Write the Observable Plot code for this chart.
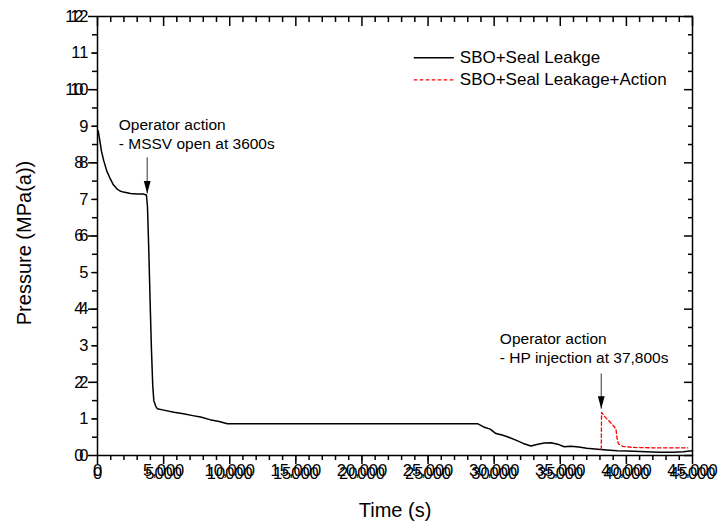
<!DOCTYPE html>
<html><head><meta charset="utf-8">
<script src="https://cdn.jsdelivr.net/npm/d3@7"></script>
<script src="https://cdn.jsdelivr.net/npm/@observablehq/plot@0.6"></script>
<style>body{margin:0;background:#fff;overflow:hidden} #chart{position:relative;width:721px;height:526px} #chart svg{display:block;position:absolute;left:0;top:0}</style>
</head><body><div id="chart"></div>
<script>
const seriesNames = ["SBO+Seal Leakge", "SBO+Seal Leakage+Action"];
const seriesColors = ["black", "red"];

const timeBase = [50, 200, 300, 470, 700, 970, 1200, 1470, 1700, 1960, 2500, 3000, 3450, 3700, 3780, 3880, 3980, 4080, 4180, 4260, 4400, 4520, 5000, 5780, 6500, 7200, 7800, 8500, 9200, 9820, 15000, 20000, 25000, 28740, 29200, 29700, 30130, 30600, 31100, 31640, 32200, 32780, 33300, 33800, 34300, 34800, 35300, 35800, 36400, 37000, 37830, 38500, 39300, 40100, 41500, 42500, 43570, 44300, 45000];
const pressureBase = [8.88, 8.55, 8.32, 8.06, 7.78, 7.56, 7.40, 7.29, 7.23, 7.20, 7.16, 7.15, 7.15, 7.12, 6.8, 5.6, 4.2, 2.9, 1.9, 1.5, 1.35, 1.28, 1.24, 1.18, 1.14, 1.09, 1.05, 0.98, 0.93, 0.87, 0.87, 0.87, 0.87, 0.87, 0.78, 0.72, 0.60, 0.56, 0.50, 0.42, 0.33, 0.26, 0.31, 0.34, 0.35, 0.31, 0.24, 0.25, 0.23, 0.20, 0.17, 0.15, 0.13, 0.12, 0.10, 0.09, 0.09, 0.10, 0.13];

const timeAction = [38100, 38120, 38400, 38800, 39210, 39300, 39400, 39720, 40500, 42000, 43500, 44640];
const pressureAction = [0.17, 1.18, 1.05, 0.90, 0.73, 0.45, 0.32, 0.25, 0.22, 0.21, 0.21, 0.21];

const xTicks = [0, 5000, 10000, 15000, 20000, 25000, 30000, 35000, 40000, 45000];
const xMinor = [1000, 2000, 3000, 4000, 6000, 7000, 8000, 9000, 11000, 12000, 13000, 14000, 16000, 17000, 18000, 19000, 21000, 22000, 23000, 24000, 26000, 27000, 28000, 29000, 31000, 32000, 33000, 34000, 36000, 37000, 38000, 39000, 41000, 42000, 43000, 44000];
const yTicks = [0, 2, 4, 6, 8, 10, 12];
const yMinor = [0.5, 1, 1.5, 2.5, 3, 3.5, 4.5, 5, 5.5, 6.5, 7, 7.5, 8.5, 9, 9.5, 10.5, 11, 11.5];

const xTitle = "Time (s)";
const yTitle = "Pressure (MPa(a))";

const annotationText = ["Operator action\n- MSSV open at 3600s", "Operator action\n- HP injection at 37,800s"];
const annotationX = [1610, 30430];
const annotationY = [9.25, 3.41];
const arrowX = [3760, 38100];
const arrowFrom = [8.15, 2.24];
const arrowTo = [7.16, 1.28];

const legendX1 = [23920, 23920];
const legendX2 = [26950, 26950];
const legendY = [10.87, 10.27];
const legendTextX = 27400;

const W = 721, H = 526;
const mL = 97, mR = 29, mT = 16, mB = 71;
const xMax = 45000, yMax = 12;
const major = 9, minor = 5;

const baseData = timeBase.map((t, i) => ({t, p: pressureBase[i]}));
const actionData = timeAction.map((t, i) => ({t, p: pressureAction[i]}));
const annotations = annotationText.map((text, i) => ({text, x: annotationX[i], y: annotationY[i]}));
const arrows = arrowX.map((x, i) => ({x, y1: arrowFrom[i], y2: arrowTo[i]}));
const legend = seriesNames.map((name, i) => ({name, color: seriesColors[i], x1: legendX1[i], x2: legendX2[i], y: legendY[i]}));

const downTriangle = {
  draw(ctx) {
    ctx.moveTo(-3.4, -12.5);
    ctx.lineTo(3.4, -12.5);
    ctx.lineTo(0, 0);
    ctx.closePath();
  }
};

const font = "'Liberation Sans', Arial, sans-serif";
const fmt = d => String(d);
const blank = () => "";
const ink = "black";
const common = {
  width: W, height: H,
  marginLeft: mL, marginRight: mR, marginTop: mT, marginBottom: mB,
  x: {domain: [0, xMax], label: null},
  y: {domain: [0, yMax], label: null}
};

// layer 1: axes, ticks and frame
const axesLayer = Plot.plot({
  ...common,
  style: {fontFamily: font, fontSize: "16.5px", background: "white", color: "black", overflow: "visible"},
  marks: [
    Plot.axisX(xMinor, {tickSize: minor, tickFormat: blank, stroke: ink, strokeWidth: 1.5, label: null}),
    Plot.axisX(xTicks, {tickSize: major, tickPadding: 3, tickFormat: fmt, stroke: ink, strokeWidth: 1.5, label: null, fontSize: 16.5}),
    Plot.axisY(yMinor, {tickSize: minor, tickFormat: blank, stroke: ink, strokeWidth: 1.5, label: null}),
    Plot.axisY(yTicks, {tickSize: major, tickPadding: 5, tickFormat: fmt, stroke: ink, strokeWidth: 1.5, label: null, fontSize: 16.5}),
    Plot.axisX(xMinor, {anchor: "top", tickSize: minor, dy: minor, tickFormat: blank, stroke: ink, strokeWidth: 1.5, label: null}),
    Plot.axisX(xTicks, {anchor: "top", tickSize: major, dy: major, tickFormat: blank, stroke: ink, strokeWidth: 1.5, label: null}),
    Plot.axisY(yMinor, {anchor: "right", tickSize: minor, dx: -minor, tickFormat: blank, stroke: ink, strokeWidth: 1.5, label: null}),
    Plot.axisY(yTicks, {anchor: "right", tickSize: major, dx: -major, tickFormat: blank, stroke: ink, strokeWidth: 1.5, label: null}),
    Plot.frame({stroke: ink, strokeWidth: 1.5})
  ]
});

// layer 2: data, legend, annotations and titles
const dataLayer = Plot.plot({
  ...common,
  style: {fontFamily: font, fontSize: "16.5px", background: "transparent", color: "black", overflow: "visible"},
  marks: [
    Plot.line(baseData, {x: "t", y: "p", stroke: seriesColors[0], strokeWidth: 1.5}),
    Plot.line(actionData, {x: "t", y: "p", stroke: seriesColors[1], strokeWidth: 1.3, strokeDasharray: "3.5,2.5"}),
    Plot.link(legend.slice(0, 1), {x1: "x1", x2: "x2", y1: "y", y2: "y", stroke: "color", strokeWidth: 1.5}),
    Plot.link(legend.slice(1), {x1: "x1", x2: "x2", y1: "y", y2: "y", stroke: "color", strokeWidth: 1.3, strokeDasharray: "3.5,2.5"}),
    Plot.text(legend, {x: legendTextX, y: "y", text: "name", textAnchor: "start", lineAnchor: "middle", fontSize: 17}),
    Plot.text(annotations, {x: "x", y: "y", text: "text", textAnchor: "start", lineAnchor: "top", fontSize: 15.5, lineHeight: 1.2}),
    Plot.link(arrows, {x1: "x", x2: "x", y1: "y1", y2: "y2", stroke: "#555", strokeWidth: 1.2}),
    Plot.dot(arrows, {x: "x", y: "y2", symbol: downTriangle, fill: "black", stroke: "none"}),
    Plot.text([xTitle], {text: d => d, frameAnchor: "bottom", dy: 55, textAnchor: "middle", lineAnchor: "middle", fontSize: 20}),
    Plot.text([yTitle], {text: d => d, frameAnchor: "left", rotate: -90, dx: -72.5, dy: 7, textAnchor: "middle", lineAnchor: "middle", fontSize: 20})
  ]
});

const host = document.getElementById("chart");
host.appendChild(axesLayer);
host.appendChild(dataLayer);
</script>
</body></html>
